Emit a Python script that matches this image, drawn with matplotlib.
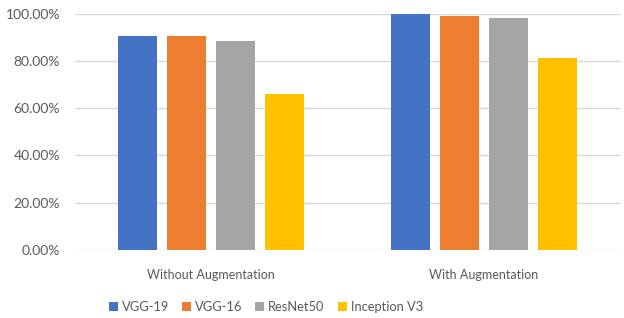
import numpy as np
import matplotlib.pyplot as plt
from matplotlib.ticker import FuncFormatter

categories = ["Without Augmentation", "With Augmentation"]
models = ["VGG-19", "VGG-16", "ResNet50", "Inception V3"]
vgg19 = [0.907, 0.997]
vgg16 = [0.907, 0.990]
resnet50 = [0.883, 0.980]
inception_v3 = [0.660, 0.813]
colors = ["#4472C4", "#ED7D31", "#A5A5A5", "#FFC000"]

plt.rcParams['font.family'] = ['Lato', 'DejaVu Sans']
text_color = "#595959"

fig = plt.figure(figsize=(6.24, 3.18), dpi=100)
ax = fig.add_axes([0.1194, 0.2138, 0.8750, 0.7437])

x = np.arange(len(categories))
slot = 0.18
width = 0.143
for i, (name, vals) in enumerate(zip(models, [vgg19, vgg16, resnet50, inception_v3])):
    ax.bar(x + (i - 1.5) * slot, vals, width, color=colors[i], label=name, zorder=3)

ax.set_xlim(-0.5, 1.5)
ax.set_ylim(0, 1.0)
ax.set_yticks(np.arange(0, 1.01, 0.2))
ax.yaxis.set_major_formatter(FuncFormatter(lambda v, p: f"{v*100:.2f}%"))
ax.grid(axis='y', color="#d9d9d9", linewidth=1.0, zorder=0)
for s in ax.spines.values():
    s.set_visible(False)
ax.tick_params(axis='both', length=0, colors=text_color)
ax.tick_params(axis='y', pad=10.5, labelsize=10)
ax.tick_params(axis='x', pad=14, labelsize=9)
ax.set_xticks(x)
ax.set_xticklabels(categories)
ax.set_axisbelow(True)

leg = fig.legend(loc='center', bbox_to_anchor=(266 / 624, 1 - 307 / 318), ncol=4,
                 frameon=False, fontsize=9.3, handlelength=0.7, handleheight=0.7,
                 handletextpad=0.3, columnspacing=1.0, borderaxespad=0)
for t in leg.get_texts():
    t.set_color(text_color)

fig.savefig("out.png", dpi=100)
